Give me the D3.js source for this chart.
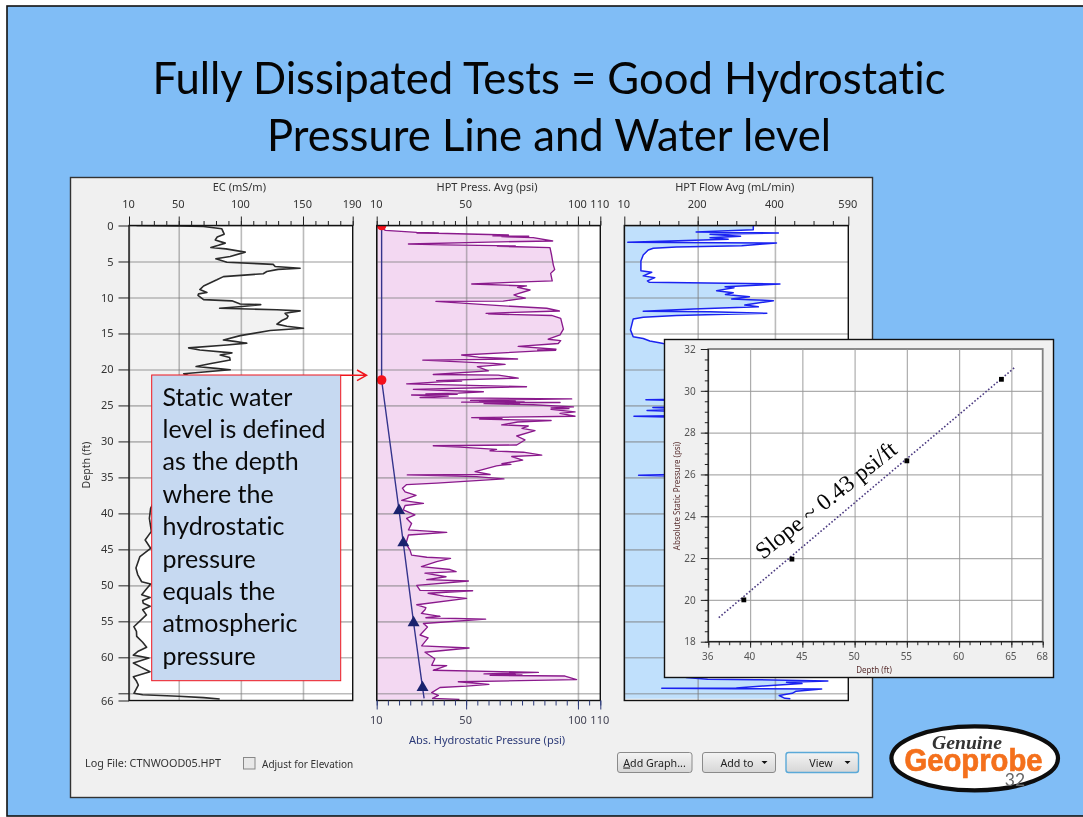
<!DOCTYPE html>
<html><head><meta charset="utf-8">
<script src="https://cdnjs.cloudflare.com/ajax/libs/d3/7.8.5/d3.min.js"></script>
<style>html,body{margin:0;padding:0;background:#fff;overflow:hidden}svg{display:block;filter:blur(.4px)}text{font-variant-ligatures:none}</style>
</head><body><div id="chart"></div>
<script>
// ---------- data: [depth ft, value] ----------
const titleLines = ["Fully Dissipated Tests = Good Hydrostatic", "Pressure Line and Water level"];
const calloutLines = ["Static water","level is defined","as the depth","where the","hydrostatic","pressure","equals the","atmospheric","pressure"];
const depthMajor = [0,5,10,15,20,25,30,35,40,45,50,55,60,65,66];
const depthLabels = [0,5,10,15,20,25,30,35,40,45,50,55,60,66];
const ecMajor = [10,50,100,150,190];
const pressMajor = [10,50,100,110];
const flowMajor = [10,200,400,590];
const ecMinor = d3.range(10,191,10);
const pressMinor = d3.range(10,111,5);
const flowMinor = d3.range(50,590,50);

const ecLog = [[0,16],[0.05,50],[0.14,70],[0.46,84.7],[1.2,86.6],[1.6,81],[2,79.4],[2.45,87.4],[2.75,82],[3.06,75.9],[3.25,88],[3.7,103.5],[4.3,91.4],[4.63,79.9],[5.1,88.8],[5.4,126],[5.7,127.6],[5.93,147.7],[6.1,130],[6.4,120.9],[6.7,118],[7.1,86],[7.55,80.7],[8.4,70],[8.9,67],[9.3,72.7],[9.5,66],[9.7,65.5],[10.3,70],[10.47,92.8],[10.9,99.5],[11,116],[11.25,101],[11.5,82.9],[11.7,129],[11.86,147.7],[12.2,135.6],[12.6,138],[12.9,137],[13.2,133],[13.7,129],[14,137],[14.27,150.4],[14.6,123.6],[15.3,99.5],[15.9,86],[16.1,95],[16.35,104.8],[16.6,88.8],[17,58],[17.3,67],[17.7,92.8],[18,83.4],[18.35,91],[18.7,91.4],[19.2,75],[19.6,64],[19.85,80],[20.05,91.4],[20.6,54],[21,60],[23,72],[26,64],[29,58],[32,50],[35,44],[37,34],[39.3,27.4],[40.7,26.4],[42.5,28],[43.7,23],[44.85,27.4],[46,18.8],[47.6,15.6],[48.5,17],[49.5,20.2],[49.8,27.4],[50.5,24],[51.3,20.2],[51.7,27],[52.1,21],[52.5,21.5],[52.9,27],[53.4,21],[54.1,24],[55.75,13.9],[56.4,16],[57.1,16.2],[57.9,21],[58.6,24.2],[59.2,17],[59.7,13.5],[60.1,26],[60.8,13.5],[61.4,20],[62,26.9],[62.7,13.5],[63.3,16],[63.85,17.5],[65,14],[65.2,21],[65.4,50],[65.6,70],[65.8,83]];

const pressLog = [[0,10],[0.3,12],[0.67,13.9],[0.95,27.9],[1.02,37.6],[1.05,28],[1.08,37],[1.32,68.9],[1.45,62],[1.5,78],[1.55,66],[1.69,80],[2.15,88.7],[2.3,60],[2.57,24.2],[2.62,30],[2.7,40],[2.8,63.6],[2.85,72],[2.9,64],[2.95,72.6],[3.08,87.5],[4.1,88.2],[5.5,89],[6.1,89.6],[6.65,87.8],[7.7,88.5],[7.9,69.6],[8.13,52.5],[8.4,77],[8.6,73],[8.96,78.6],[9.65,71.4],[9.85,73],[10.1,76.5],[10.5,66.6],[10.55,36.5],[11.14,65],[11.5,86],[11.88,91.7],[12.2,58.9],[12.25,66],[12.3,60],[12.5,88.2],[12.9,92.3],[14.4,93.5],[15.2,92],[15.8,86.7],[16,92.3],[16.4,91.2],[16.8,73.3],[17.2,90.2],[17.28,82],[17.35,90],[17.42,83],[18,48],[18.3,55.5],[18.55,73],[18.7,30.6],[19.15,62.2],[19.3,67.4],[19.6,55],[20.2,60],[20.7,35.3],[20.8,64.4],[21.2,73.3],[21.55,36.8],[21.62,48],[21.7,40],[22,23.4],[22.4,77],[22.76,26.4],[23.1,57.7],[23.3,46.5],[23.4,32],[23.45,46],[23.55,25.6],[23.7,42],[23.9,29.4],[24.1,97.2],[24.3,52],[24.4,72],[24.45,56],[24.5,76],[24.55,48],[24.6,92],[24.65,60],[24.7,74],[24.75,58],[24.9,80],[25.2,98],[25.35,88],[25.45,96],[25.55,88],[25.9,98.7],[26.1,92],[26.5,98.7],[26.7,52.5],[26.8,66],[26.9,56],[27.1,88],[27.3,73],[27.7,65.9],[27.86,77.8],[28.2,75],[28.5,80.8],[29.25,72.6],[29.8,76.3],[30.5,72.6],[30.6,35.3],[30.8,47.3],[31.1,63.6],[31.3,60.7],[31.5,75.6],[31.9,83.8],[32.1,70.4],[32.6,75.3],[33.1,66],[33.2,70],[33.3,66],[33.4,63.6],[34.2,54],[34.6,60.7],[34.65,23.7],[34.9,54.7],[35.2,66.9],[35.8,36.8],[36,23.4],[36.5,21.5],[37,22.7],[37.5,27.6],[38.2,21.2],[38.6,30.9],[38.9,22.7],[39.5,21.9],[40.2,27.1],[40.7,23.4],[41.4,25.6],[42.3,24.2],[42.65,41.3],[43,24.2],[44.2,23.1],[45.1,24.9],[45.8,25.6],[46.1,32.4],[46.25,43],[46.7,36.8],[47.4,30],[47.8,42.8],[48.1,45.5],[48.3,31.6],[48.8,41],[49.2,32.4],[49.4,51],[50,27.9],[50.7,29.4],[50.75,52.9],[51.1,33],[51.5,40],[51.8,50.2],[52.7,27.9],[53.1,32],[53.4,31.6],[53.9,30],[54.3,38.3],[54.5,32],[54.7,58.7],[55.3,30.9],[55.8,32.7],[56.9,29.4],[57.3,33],[58.4,30.1],[58.7,51.3],[59.3,31.6],[60.2,36],[61.1,34.6],[61.15,41.3],[61.8,35.3],[62.1,82.3],[62.3,58],[62.36,72],[62.4,62],[62.45,75],[62.5,60.7],[62.6,94.2],[63.1,99.4],[63.4,46.5],[63.75,60.2],[64,50.2],[64.2,38.3],[64.9,34.6],[65.3,37.6],[65.7,35],[65.85,47]];

const flowLog = [[0,344],[0.6,344],[0.9,196],[1.04,409],[1.2,232],[1.4,279],[1.5,311],[1.7,232],[1.9,279],[2.34,19],[2.43,404],[2.8,314],[3,145],[3.17,85],[3.4,72],[4.1,59],[4.93,53],[6.3,53],[6.5,81],[7,59],[7.25,89],[7.7,70],[7.9,75],[8.13,413],[8.5,271],[8.64,294],[9.05,249],[9.33,292],[9.6,272],[9.9,334],[10.2,288],[10.3,336],[10.44,396],[11.05,322],[11.3,357],[11.6,189],[11.9,59],[12,232],[12.2,379],[12.5,145],[12.76,59],[13,33],[14.5,26],[15.45,33],[15.7,59],[16.05,76],[16.4,111],[18,300],[20,250],[22,220],[24.1,200],[24.2,66],[24.4,200],[25.2,200],[25.3,84],[25.5,200],[25.7,69],[25.9,200],[26.4,180],[26.5,35],[26.7,200],[30,260],[34.5,220],[34.7,47],[34.9,220],[40,350],[45,360],[50,330],[55,340],[60,300],[62.8,170],[63.05,226],[63.1,350],[63.3,537],[63.45,430],[63.65,470],[63.8,420],[64.25,300],[64.3,107],[64.35,300],[64.4,521],[64.7,455],[65,445],[65.3,411],[65.7,426],[65.75,440]];

const hydroStaticPoint = [[0,12.2],[21.47,12.2]];
const hydroLine = [[0,12.2],[21.47,12.2],[39.6,20],[44.1,21.9],[55.2,26.5],[64.2,30.5],[65.7,31.2]];
const hydroTriangles = [[39.6,20],[44.1,21.9],[55.2,26.5],[64.2,30.5]];

const slopePoints = [[39.4,20.0],[44.0,21.95],[55.0,26.65],[64.05,30.55]];
const slopeLine = [[37.0,19.15],[65.4,31.15]];
const insetXMajor = [36,40,45,50,55,60,65,68];
const insetYMajor = [18,20,22,24,26,28,30,32];
const insetXMinor = d3.range(36,69,1);
const insetYMinor = d3.range(18,32.01,0.5);

// ---------- layout ----------
const W=1083,H=817;
const ui="'Noto Sans',Tahoma,sans-serif", slide="Lato,Carlito,Calibri,sans-serif";
const svg=d3.select("#chart").append("svg").attr("width",W).attr("height",H);
svg.append("rect").attr("x",7).attr("y",6).attr("width",W).attr("height",810).attr("fill","#80bdf6").attr("stroke","#111").attr("stroke-width",1.6);

svg.selectAll("text.title").data(titleLines).join("text").attr("class","title")
  .attr("x",549).attr("y",(d,i)=>94+i*57).attr("text-anchor","middle")
  .attr("font-family",slide).attr("font-size",43.6).attr("fill","#050505").text(d=>d);

// window
svg.append("rect").attr("x",70.5).attr("y",177.5).attr("width",802).attr("height",620).attr("fill","#f0f0f0").attr("stroke","#333").attr("stroke-width",1.4);

const yTop=225.5,yBot=700.5;
const yDepth=d3.scaleLinear().domain([0,66]).range([yTop,yBot]);

function panel(opts){
  const x=d3.scaleLinear().domain(opts.domain).range(opts.range);
  const g=svg.append("g");
  const pw=opts.range[1]-opts.range[0];
  const cid="clip"+opts.id;
  svg.append("clipPath").attr("id",cid).append("rect").attr("x",opts.range[0]).attr("y",yTop).attr("width",pw).attr("height",yBot-yTop);
  g.append("rect").attr("x",opts.range[0]).attr("y",yTop).attr("width",pw).attr("height",yBot-yTop).attr("fill","#fff");
  const area=d3.area().y(d=>yDepth(d[0])).x0(x(opts.domain[0])).x1(d=>x(d[1]));
  const line=d3.line().y(d=>yDepth(d[0])).x(d=>x(d[1]));
  const cg=g.append("g").attr("clip-path",`url(#${cid})`);
  cg.append("path").attr("d",area(opts.data)).attr("fill",opts.fill);
  // grid over the fill
  const gx=cg.append("g").attr("transform",`translate(0,${yBot})`).call(d3.axisTop(x).tickValues(opts.major).tickSize(yBot-yTop).tickFormat(""));
  gx.select(".domain").remove();
  gx.selectAll("line").attr("stroke","#777").attr("stroke-opacity",.5).attr("stroke-width",1.6);
  const gy=cg.append("g").attr("transform",`translate(${opts.range[0]},0)`).call(d3.axisRight(yDepth).tickValues(depthMajor).tickSize(pw).tickFormat(""));
  gy.select(".domain").remove();
  gy.selectAll("line").attr("stroke","#777").attr("stroke-opacity",.5).attr("stroke-width",1.6);
  cg.append("path").attr("d",line(opts.data)).attr("fill","none").attr("stroke",opts.stroke).attr("stroke-width",opts.sw).attr("stroke-linejoin","round");
  g.append("rect").attr("x",opts.range[0]).attr("y",yTop).attr("width",pw).attr("height",yBot-yTop).attr("fill","none").attr("stroke","#111").attr("stroke-width",1.4);
  // top axis
  const minor=g.append("g").attr("transform",`translate(0,${yTop})`).call(d3.axisTop(x).tickValues(opts.minor).tickSize(4.5).tickFormat(""));
  minor.select(".domain").remove(); minor.selectAll("line").attr("stroke","#222");
  const major=g.append("g").attr("transform",`translate(0,${yTop})`).call(d3.axisTop(x).tickValues(opts.major).tickSize(9).tickFormat(d3.format("d")));
  major.select(".domain").remove(); major.selectAll("line").attr("stroke","#222");
  major.selectAll("text").attr("font-family",ui).attr("font-size",11).attr("fill","#333").attr("dx",-1).attr("dy",-5.5);
  g.append("text").attr("x",d3.mean(opts.range)-1.5).attr("y",190.5).attr("text-anchor","middle")
    .attr("font-family",ui).attr("font-size",11).attr("fill","#333").text(opts.title);
  return {x,g,cg,line};
}

const pEC=panel({id:"ec",domain:[10,190],range:[129,352.7],data:ecLog,fill:"#f2f2f2",stroke:"#2b2b2b",sw:1.6,major:ecMajor,minor:ecMinor,title:"EC (mS/m)"});
const pP=panel({id:"pr",domain:[10,110],range:[376.7,600.3],data:pressLog,fill:"#f3d8f2",stroke:"#8a1a8c",sw:1.35,major:pressMajor,minor:pressMinor,title:"HPT Press. Avg (psi)"});
const pF=panel({id:"fl",domain:[10,590],range:[624.3,848.3],data:flowLog,fill:"#c0e0fc",stroke:"#1a22f0",sw:1.5,major:flowMajor,minor:flowMinor,title:"HPT Flow Avg (mL/min)"});

// depth axis
const dAxis=svg.append("g").attr("transform","translate(129,0)").call(d3.axisLeft(yDepth).tickValues(depthMajor).tickSize(10.5).tickFormat(d=>depthLabels.includes(d)?d:""));
dAxis.select(".domain").remove(); dAxis.selectAll("line").attr("stroke","#222");
dAxis.selectAll("text").attr("font-family",ui).attr("font-size",11).attr("fill","#333").attr("dx",-2);
svg.append("text").attr("transform","translate(90,465) rotate(-90)").attr("text-anchor","middle").attr("font-family",ui).attr("font-size",10.5).attr("fill","#333").text("Depth (ft)");

// hydrostatic series on the pressure panel
pP.cg.append("path").attr("d",pP.line(hydroLine)).attr("fill","none").attr("stroke","#34348c").attr("stroke-width",1.4);
pP.cg.selectAll("circle").data(hydroStaticPoint).join("circle").attr("cx",d=>pP.x(d[1])).attr("cy",d=>yDepth(d[0])).attr("r",4.8).attr("fill","#f5101a");
pP.cg.selectAll("path.tri").data(hydroTriangles).join("path").attr("class","tri")
  .attr("d",d3.symbol(d3.symbolTriangle,62))
  .attr("transform",d=>`translate(${pP.x(d[1])},${yDepth(d[0])})`).attr("fill","#1a236e");
const navy="#2c3a78";
const botMinor=svg.append("g").attr("transform",`translate(0,${yBot})`).call(d3.axisBottom(pP.x).tickValues(pressMinor).tickSize(5).tickFormat(""));
botMinor.select(".domain").remove(); botMinor.selectAll("line").attr("stroke",navy);
const botMajor=svg.append("g").attr("transform",`translate(0,${yBot})`).call(d3.axisBottom(pP.x).tickValues(pressMajor).tickSize(9).tickFormat(d3.format("d")));
botMajor.select(".domain").remove(); botMajor.selectAll("line").attr("stroke",navy);
botMajor.selectAll("text").attr("font-family",ui).attr("font-size",11).attr("fill","#445").attr("dx",-1).attr("dy",11.5);
svg.append("text").attr("x",487).attr("y",743.5).attr("text-anchor","middle").attr("font-family",ui).attr("font-size",11).attr("fill",navy).text("Abs. Hydrostatic Pressure (psi)");

// callout
svg.append("rect").attr("x",151.7).attr("y",375).attr("width",189).attr("height",305.7).attr("fill","#c6d9f1").attr("stroke","#f0151d").attr("stroke-width",1);
svg.selectAll("text.call").data(calloutLines).join("text").attr("class","call").attr("x",162.5).attr("y",(d,i)=>405.5+i*32.4)
  .attr("font-family",slide).attr("font-size",25).attr("fill","#0a0a0a").text(d=>d);
svg.append("path").attr("d","M340.7,375.3H366.5M357,370L366.5,375.3L357,380.6").attr("fill","none").attr("stroke","#f0151d").attr("stroke-width",1.5);

// inset
svg.append("rect").attr("x",664.5).attr("y",339.5).attr("width",389).attr("height",338).attr("fill","#f0f0f0").attr("stroke","#111").attr("stroke-width",1.4);
const ix=d3.scaleLinear().domain([36,68]).range([708.3,1042.7]);
const iy=d3.scaleLinear().domain([18,32]).range([641.7,349]);
svg.append("rect").attr("x",708.3).attr("y",349).attr("width",334.4).attr("height",292.7).attr("fill","#fff").attr("stroke","#808080").attr("stroke-width",1.8);
const igx=svg.append("g").attr("transform","translate(0,641.7)").call(d3.axisTop(ix).tickValues(insetXMajor.slice(1,-1)).tickSize(292.7).tickFormat(""));
igx.select(".domain").remove(); igx.selectAll("line").attr("stroke","#999").attr("stroke-opacity",.8).attr("stroke-width",1.2);
const igy=svg.append("g").attr("transform","translate(708.3,0)").call(d3.axisRight(iy).tickValues(insetYMajor.slice(1,-1)).tickSize(334.4).tickFormat(""));
igy.select(".domain").remove(); igy.selectAll("line").attr("stroke","#999").attr("stroke-opacity",.8).attr("stroke-width",1.2);
svg.append("path").attr("d","M708.3,349V641.7H1042.7").attr("fill","none").attr("stroke","#222").attr("stroke-width",1.2);
const ixm=svg.append("g").attr("transform","translate(0,641.7)").call(d3.axisBottom(ix).tickValues(insetXMinor).tickSize(3.5).tickFormat(""));
ixm.select(".domain").remove(); ixm.selectAll("line").attr("stroke","#222");
const ixM=svg.append("g").attr("transform","translate(0,641.7)").call(d3.axisBottom(ix).tickValues(insetXMajor).tickSize(6).tickFormat(d3.format("d")));
ixM.select(".domain").remove(); ixM.selectAll("line").attr("stroke","#222");
ixM.selectAll("text").attr("font-family",ui).attr("font-size",10).attr("fill","#555").attr("dx",-1).attr("dy",9.5);
const iym=svg.append("g").attr("transform","translate(708.3,0)").call(d3.axisLeft(iy).tickValues(insetYMinor).tickSize(3.5).tickFormat(""));
iym.select(".domain").remove(); iym.selectAll("line").attr("stroke","#222");
const iyM=svg.append("g").attr("transform","translate(708.3,0)").call(d3.axisLeft(iy).tickValues(insetYMajor).tickSize(7.5).tickFormat(d3.format("d")));
iyM.select(".domain").remove(); iyM.selectAll("line").attr("stroke","#222");
iyM.selectAll("text").attr("font-family",ui).attr("font-size",10).attr("fill","#555").attr("dx",-2);
svg.append("text").attr("x",874).attr("y",673).attr("text-anchor","middle").attr("font-family",ui).attr("font-size",8).attr("fill","#5a3030").text("Depth (ft)");
svg.append("text").attr("transform","translate(680,496) rotate(-90)").attr("text-anchor","middle").attr("font-family",ui).attr("font-size",8).attr("fill","#5a3030").text("Absolute Static Pressure (psi)");
svg.append("path").attr("d",d3.line().x(d=>ix(d[0])).y(d=>iy(d[1]))(slopeLine)).attr("fill","none").attr("stroke","#4b3a80").attr("stroke-width",1.6).attr("stroke-dasharray","1.6 2");
svg.selectAll("rect.pt").data(slopePoints).join("rect").attr("class","pt").attr("x",d=>ix(d[0])-2.4).attr("y",d=>iy(d[1])-2.4).attr("width",4.8).attr("height",4.8).attr("fill","#000");
svg.append("text").attr("transform","translate(763,560) rotate(-38.5)").attr("font-family","'Liberation Serif',serif").attr("font-size",23.5).attr("fill","#050505").text("Slope ~ 0.43 psi/ft");

// window footer controls
svg.append("text").attr("x",85).attr("y",766.5).attr("font-family",ui).attr("font-size",10.8).attr("fill","#333").text("Log File: CTNWOOD05.HPT");
svg.append("rect").attr("x",243.5).attr("y",757.5).attr("width",11.5).attr("height",11.5).attr("fill","#e8e8e8").attr("stroke","#888");
svg.append("text").attr("x",262).attr("y",767.5).attr("font-family",ui).attr("font-size",10).attr("fill","#333").text("Adjust for Elevation");
const grad=svg.append("defs").append("linearGradient").attr("id","btn").attr("x1",0).attr("x2",0).attr("y1",0).attr("y2",1);
grad.append("stop").attr("offset",0).attr("stop-color","#f4f4f4"); grad.append("stop").attr("offset",1).attr("stop-color","#d6d6d6");
const buttons=[{a:"A",t:"dd Graph...",x:617.5,w:74.5,tx:654.5},{t:"Add to",x:702.5,w:73,tx:737,m:1},{t:"View",x:786,w:72.5,tx:821,m:1,b:"#5aa9d8"}];
buttons.forEach(b=>{
  svg.append("rect").attr("x",b.x).attr("y",752.5).attr("width",b.w).attr("height",20).attr("rx",2.5).attr("fill","url(#btn)").attr("stroke",b.b||"#8a8a8a").attr("stroke-width",b.b?1.4:1);
  const t=svg.append("text").attr("x",b.tx).attr("y",766.5).attr("text-anchor","middle").attr("font-family",ui).attr("font-size",10.7).attr("fill","#222");
  if(b.a) t.append("tspan").attr("text-decoration","underline").text(b.a);
  t.append("tspan").text(b.t);
  if(b.m) svg.append("path").attr("d",`M${b.x+b.w-14},761h6l-3,3z`).attr("fill","#111");
});

// logo
svg.append("ellipse").attr("cx",974.7).attr("cy",758.3).attr("rx",83.3).attr("ry",32).attr("fill","#fff").attr("stroke","#0d0d0d").attr("stroke-width",4.2);
svg.append("text").attr("x",967).attr("y",748.5).attr("text-anchor","middle").attr("font-family","'Liberation Serif',serif").attr("font-weight",700).attr("font-style","italic").attr("font-size",18).attr("textLength",70).attr("lengthAdjust","spacingAndGlyphs").attr("fill","#333").text("Genuine");
svg.append("text").attr("x",973.5).attr("y",770.5).attr("text-anchor","middle").attr("font-family","'Liberation Sans',sans-serif").attr("font-weight",700).attr("font-size",31).attr("textLength",138).attr("lengthAdjust","spacingAndGlyphs").attr("fill","#f4701c").attr("stroke","#f4701c").attr("stroke-width",.7).text("Geoprobe");
svg.append("text").attr("x",1015).attr("y",786).attr("text-anchor","middle").attr("font-family",slide).attr("font-size",17.5).attr("fill","#666").text("32");
</script></body></html>
